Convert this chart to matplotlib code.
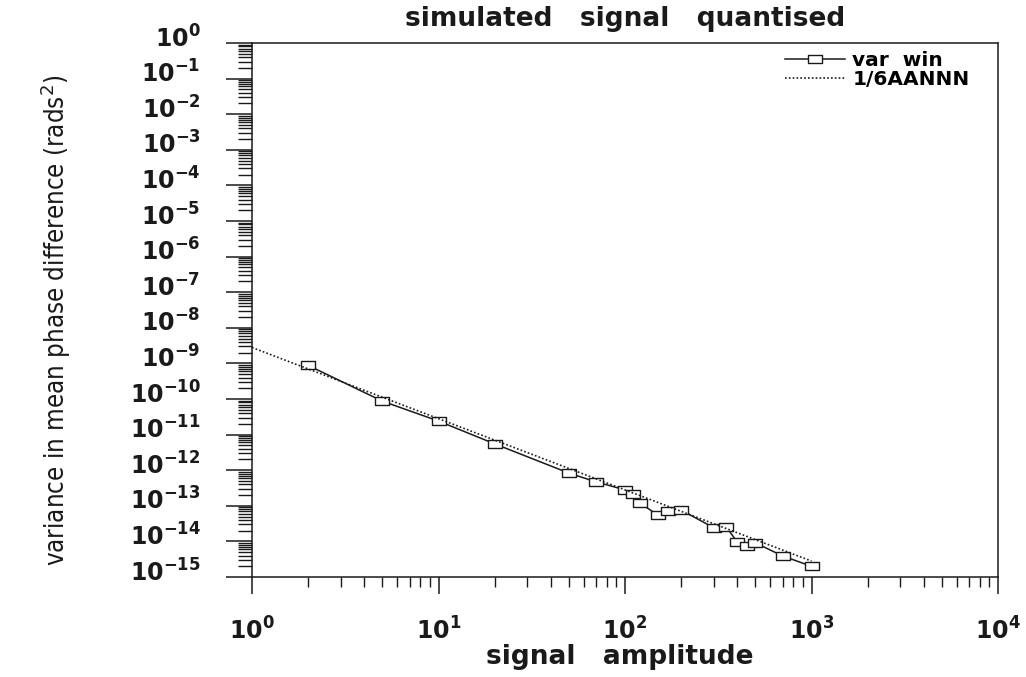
import numpy as np
import matplotlib
matplotlib.use("Agg")
import matplotlib.pyplot as plt
from matplotlib.path import Path
from matplotlib.ticker import LogLocator, NullFormatter
from matplotlib.transforms import ScaledTranslation

# measured values (var win) and the 1/6AANNN reference line end points
amp = [2, 5, 10, 20, 50, 70, 100, 110, 120, 150, 170, 200, 300, 350, 400, 450, 500, 700, 1000]
var_win = [8.8e-10, 8.7e-11, 2.4e-11, 5.5e-12, 8.3e-13, 4.7e-13, 2.8e-13, 2.1e-13, 1.2e-13,
           5.5e-14, 7.1e-14, 7.6e-14, 2.4e-14, 2.5e-14, 9.6e-15, 7.4e-15, 9.1e-15, 3.9e-15, 2.0e-15]
theory_amp = [1, 1000]
theory_var = [2.8e-9, 2.8e-15]

x_decades = [0, 1, 2, 3, 4]
y_decades = list(range(-15, 1))

ink = '#1a1a1a'
box = Path([(-1.6, -1), (1.6, -1), (1.6, 1), (-1.6, 1), (-1.6, -1)],
           [Path.MOVETO, Path.LINETO, Path.LINETO, Path.LINETO, Path.CLOSEPOLY])

fig = plt.figure(figsize=(10.26, 6.77), dpi=100)
ax = fig.add_axes([252 / 1026, 1 - 577 / 677, 746 / 1026, 534 / 677])

ax.plot(amp, var_win, color=ink, lw=1.1, marker=box, markersize=10,
        markerfacecolor='white', markeredgecolor=ink, markeredgewidth=1.0, label='var  win')
ax.plot(theory_amp, theory_var, color=ink, lw=1.2, linestyle=(0, (1, 1.3)), label='1/6AANNN')

ax.set_xscale('log')
ax.set_yscale('log')
ax.set_xlim(1, 1e4)
ax.set_ylim(1e-15, 1)

ax.set_xticks([10.0 ** d for d in x_decades])
ax.set_xticklabels([r'$\mathbf{10^{%d}}$' % d for d in x_decades])
ax.xaxis.set_minor_locator(LogLocator(base=10, subs=np.arange(2, 10), numticks=100))
ax.xaxis.set_minor_formatter(NullFormatter())
ax.set_yticks([10.0 ** d for d in y_decades])
ax.set_yticklabels([r'$\mathbf{10^{%d}}$' % d for d in y_decades])
ax.yaxis.set_minor_locator(LogLocator(base=10, subs=np.arange(2, 10), numticks=100))
ax.yaxis.set_minor_formatter(NullFormatter())

ax.tick_params(axis='x', which='major', direction='out', length=12, width=1.1,
               pad=17, labelsize=17, colors=ink)
ax.tick_params(axis='x', which='minor', direction='out', length=7, width=1.0, colors=ink)
ax.tick_params(axis='y', which='major', direction='out', length=19, width=1.1,
               pad=18, labelsize=17, colors=ink)
ax.tick_params(axis='y', which='minor', direction='out', length=10, width=1.0, colors=ink)

shift = ScaledTranslation(0, 5 / 72, fig.dpi_scale_trans)
for lab in ax.get_yticklabels():
    lab.set_transform(lab.get_transform() + shift)

for sp in ax.spines.values():
    sp.set_linewidth(1.1)
    sp.set_color(ink)

ax.set_title('simulated   signal   quantised', fontsize=19, fontweight='bold',
             family='DejaVu Sans', color=ink, pad=12)
ax.set_xlabel('signal   amplitude', fontsize=19, fontweight='bold', family='DejaVu Sans', color=ink)
ax.xaxis.set_label_coords(0.493, -0.125)
ax.set_ylabel(r'variance in mean phase difference (rads$^2$)', fontsize=18.5,
              family='DejaVu Sans', fontstretch='condensed', color=ink)
ax.yaxis.set_label_coords(-0.24, 0.48)

leg = ax.legend(loc='upper right', bbox_to_anchor=(0.962, 0.985), frameon=False,
                handlelength=3.0, handletextpad=0.35, borderaxespad=0, borderpad=0,
                labelspacing=0.0, prop={'family': 'DejaVu Sans', 'weight': 'bold', 'size': 14.5})

fig.savefig('out.png', dpi=100, facecolor='white')
